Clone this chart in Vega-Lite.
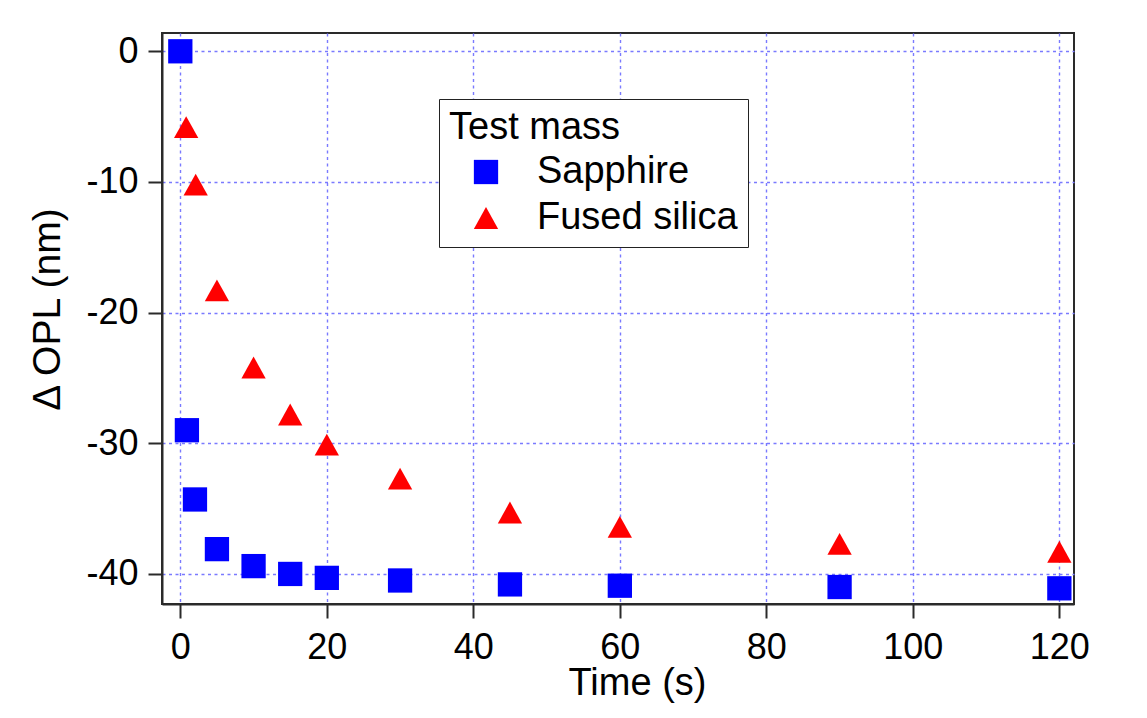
{
  "$schema": "https://vega.github.io/schema/vega-lite/v6.json",
  "autosize": "none",
  "width": 912,
  "height": 571,
  "padding": {"left": 162, "top": 33, "right": 73, "bottom": 114},
  "background": "white",
  "config": {
    "font": "Liberation Sans",
    "view": {"stroke": "#2a2a2a", "strokeWidth": 2, "fill": "white"},
    "axis": {
      "domainColor": "#2a2a2a",
      "domainWidth": 2,
      "tickColor": "#2a2a2a",
      "tickWidth": 2,
      "tickSize": 14,
      "labelFontSize": 36,
      "labelColor": "black",
      "labelExpr": "replace(datum.label, '−', '-')",
      "titleFontSize": 38,
      "titleFontWeight": "normal",
      "titleColor": "black",
      "gridColor": "#7a7aff",
      "gridDash": [3, 3.5],
      "gridWidth": 1.4,
      "gridOpacity": 1
    }
  },
  "data": {
    "values": [
      {"t": 0, "opl": 0, "material": "Sapphire"},
      {"t": 0.9, "opl": -29.0, "material": "Sapphire"},
      {"t": 2, "opl": -34.3, "material": "Sapphire"},
      {"t": 5, "opl": -38.1, "material": "Sapphire"},
      {"t": 10, "opl": -39.4, "material": "Sapphire"},
      {"t": 15, "opl": -40.0, "material": "Sapphire"},
      {"t": 20, "opl": -40.3, "material": "Sapphire"},
      {"t": 30, "opl": -40.5, "material": "Sapphire"},
      {"t": 45, "opl": -40.8, "material": "Sapphire"},
      {"t": 60, "opl": -40.9, "material": "Sapphire"},
      {"t": 90, "opl": -41.0, "material": "Sapphire"},
      {"t": 120, "opl": -41.1, "material": "Sapphire"},
      {"t": 0.8, "opl": -5.8, "material": "Fused silica"},
      {"t": 2.1, "opl": -10.2, "material": "Fused silica"},
      {"t": 5, "opl": -18.3, "material": "Fused silica"},
      {"t": 10, "opl": -24.2, "material": "Fused silica"},
      {"t": 15, "opl": -27.8, "material": "Fused silica"},
      {"t": 20, "opl": -30.1, "material": "Fused silica"},
      {"t": 30, "opl": -32.7, "material": "Fused silica"},
      {"t": 45, "opl": -35.3, "material": "Fused silica"},
      {"t": 60, "opl": -36.4, "material": "Fused silica"},
      {"t": 90, "opl": -37.7, "material": "Fused silica"},
      {"t": 120, "opl": -38.3, "material": "Fused silica"}
    ]
  },
  "mark": {"type": "point", "filled": true, "opacity": 1, "size": 590, "strokeWidth": 0},
  "encoding": {
    "x": {
      "field": "t",
      "type": "quantitative",
      "scale": {"domain": [-2.5, 122], "nice": false, "zero": false},
      "axis": {
        "values": [0, 20, 40, 60, 80, 100, 120],
        "title": "Time (s)",
        "labelPadding": 12,
        "titleX": 475,
        "titleY": 90,
        "titleBaseline": "alphabetic"
      }
    },
    "y": {
      "field": "opl",
      "type": "quantitative",
      "scale": {"domain": [-42.3, 1.4], "nice": false, "zero": false},
      "axis": {
        "values": [0, -10, -20, -30, -40],
        "title": "Δ OPL (nm)",
        "titleFontSize": 39,
        "labelPadding": 10,
        "titleX": -115,
        "titleY": 276,
        "titleAngle": -90,
        "titleAlign": "center",
        "titleBaseline": "middle"
      }
    },
    "color": {
      "field": "material",
      "type": "nominal",
      "scale": {"domain": ["Sapphire", "Fused silica"], "range": ["#0000ff", "#ff0000"]},
      "legend": {
        "title": "Test mass",
        "orient": "none",
        "legendX": 277,
        "legendY": 66,
        "strokeColor": "#222222",
        "fillColor": "white",
        "padding": 10,
        "symbolOffset": 18,
        "labelOffset": 32,
        "labelLimit": 400,
        "rowPadding": 8,
        "titlePadding": 6,
        "titleFontSize": 38,
        "titleFontWeight": "normal",
        "titleColor": "black",
        "labelFontSize": 38,
        "labelColor": "black",
        "symbolSize": 590,
        "symbolStrokeWidth": 0,
        "encode": {"legend": {"update": {"strokeWidth": {"value": 2}}}}
      }
    },
    "shape": {
      "field": "material",
      "type": "nominal",
      "scale": {"domain": ["Sapphire", "Fused silica"], "range": ["square", "M-1,0.9L0,-0.9L1,0.9Z"]},
      "legend": null
    }
  }
}
